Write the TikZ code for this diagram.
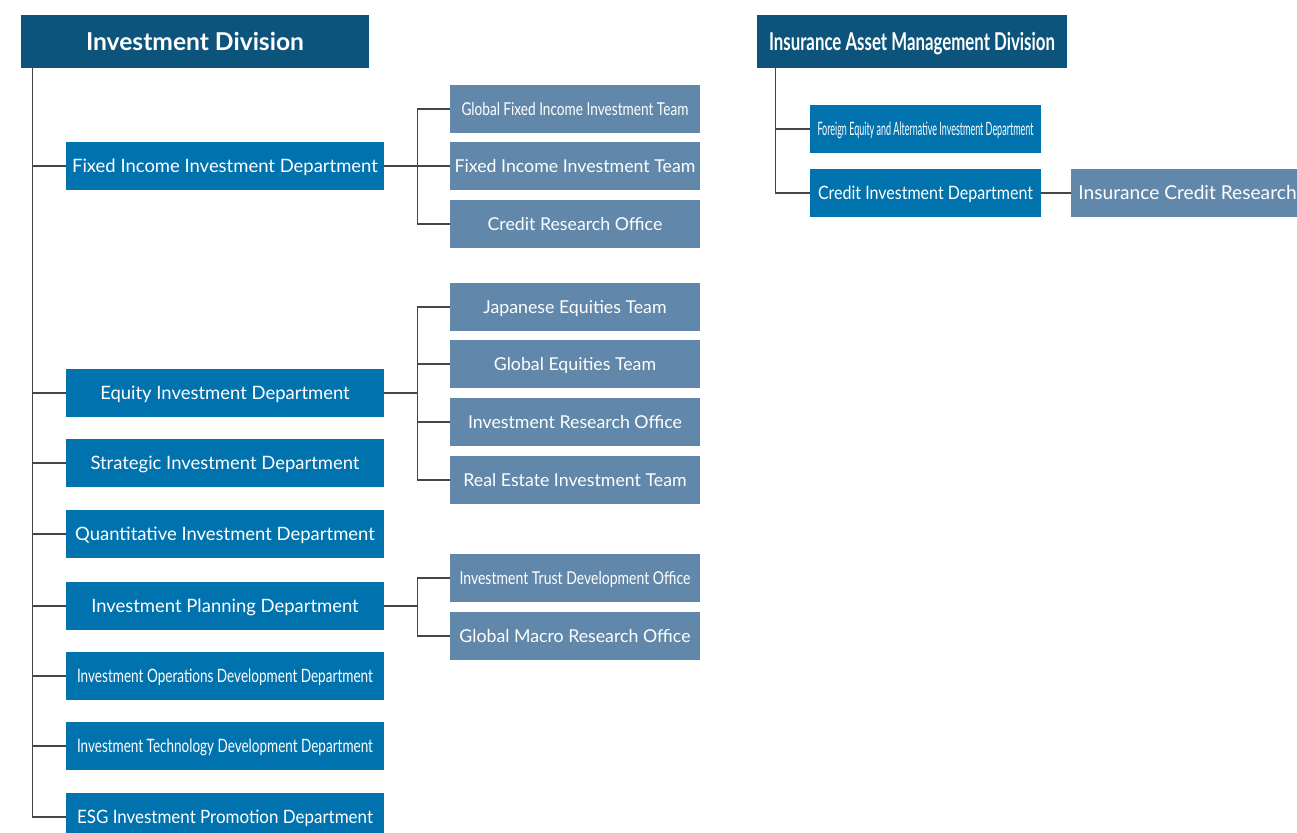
\documentclass[tikz,border=0pt]{standalone}
\usepackage{fontspec}
\setmainfont{Lato}
\usepackage{graphicx}
\usetikzlibrary{positioning}
\definecolor{divBlue}{RGB}{13,84,124}
\definecolor{deptBlue}{RGB}{0,114,174}
\definecolor{teamBlue}{RGB}{97,136,170}
\definecolor{lineGray}{RGB}{70,70,70}
\newcommand{\squeeze}[2]{\resizebox{#1}{\height}{#2}}

\tikzset{
  division/.style={fill=divBlue, text=white, font=\fontsize{14}{16}\bfseries, minimum height=1.06cm, inner sep=0pt, text height=10pt, text depth=0pt},
  dept/.style={fill=deptBlue, text=white, minimum width=6.36cm, minimum height=0.96cm, inner sep=0pt, font=\fontsize{10.5}{12}\selectfont, text height=7.6pt, text depth=0pt},
  team/.style={fill=teamBlue, text=white, minimum width=5cm, minimum height=0.96cm, inner sep=0pt, font=\fontsize{10.1}{12}\selectfont, text height=7.3pt, text depth=0pt},
  link/.style={draw=lineGray, line width=0.6pt},
}

\begin{document}
\begin{tikzpicture}[x=0.02cm, y=-0.02cm]
  \useasboundingbox (0,0) rectangle (1297,832);
  \clip (0,0) rectangle (1297,832);

  % divisions
  \node[division, minimum width=6.96cm] (invdiv) at (195,41.5) {Investment Division};
  \node[division, minimum width=6.2cm] (insdiv) at (912,41.5) {\squeeze{5.72cm}{Insurance Asset Management Division}};

  % departments
  \node[dept] (fid) at (225,166) {Fixed Income Investment Department};
  \node[dept] (eid) at (225,393) {Equity Investment Department};
  \node[dept] (sid) at (225,463) {Strategic Investment Department};
  \node[dept] (qid) at (225,534) {Quantitative Investment Department};
  \node[dept] (ipd) at (225,606) {Investment Planning Department};
  \node[dept] (iodd) at (225,676) {\squeeze{5.92cm}{Investment Operations Development Department}};
  \node[dept] (itdd) at (225,746) {\squeeze{5.92cm}{Investment Technology Development Department}};
  \node[dept] (esg) at (225,817) {\squeeze{5.92cm}{ESG Investment Promotion Department}};

  % teams and offices
  \node[team] (gfit) at (575,109) {\squeeze{4.54cm}{Global Fixed Income Investment Team}};
  \node[team] (fiit) at (575,166) {Fixed Income Investment Team};
  \node[team] (cro) at (575,224) {Credit Research Office};
  \node[team] (jet) at (575,307) {Japanese Equities Team};
  \node[team] (get) at (575,364) {Global Equities Team};
  \node[team] (iro) at (575,422) {Investment Research Office};
  \node[team] (reit) at (575,480) {Real Estate Investment Team};
  \node[team] (itdo) at (575,578) {\squeeze{4.62cm}{Investment Trust Development Office}};
  \node[team] (gmro) at (575,636) {Global Macro Research Office};

  % insurance side
  \node[dept, minimum width=4.62cm] (feaid) at (925.5,129) {\squeeze{4.32cm}{Foreign Equity and Alternative Investment Department}};
  \node[dept, minimum width=4.62cm] (cid) at (925.5,193) {\squeeze{4.3cm}{Credit Investment Department}};
  \node[team, minimum width=4.66cm, font=\fontsize{10.9}{12}\selectfont, text height=7.8pt] (icr) at (1187.5,193) {Insurance Credit Research};

  % connectors
  \foreach \d in {fid,eid,sid,qid,ipd,iodd,itdd,esg}
    \draw[link] ([xshift=0.24cm]invdiv.south west) |- (\d.west);
  \foreach \d in {feaid,cid}
    \draw[link] ([xshift=0.38cm]insdiv.south west) |- (\d.west);
  \foreach \t in {gfit,fiit,cro}
    \draw[link] (fid.east) -- ++(33,0) |- (\t.west);
  \foreach \t in {jet,get,iro,reit}
    \draw[link] (eid.east) -- ++(33,0) |- (\t.west);
  \foreach \t in {itdo,gmro}
    \draw[link] (ipd.east) -- ++(33,0) |- (\t.west);
  \draw[link] (cid) -- (icr);
\end{tikzpicture}
\end{document}
